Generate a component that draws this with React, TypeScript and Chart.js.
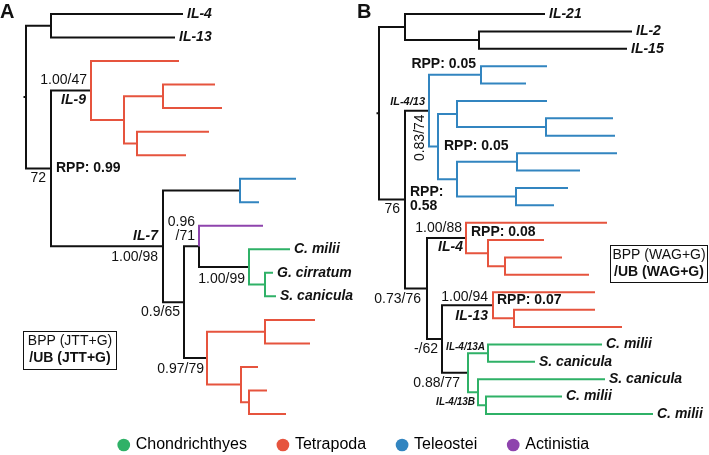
import React, { useEffect, useRef } from "react";
import { Chart, registerables } from "chart.js";

Chart.register(...registerables);

// ---------------- Data ----------------
// Trees in Newick form. "|X" tags a branch (and everything below it) with a clade:
// C = Chondrichthyes, T = Tetrapoda, O = Teleostei, A = Actinistia. Branch lengths after ":".
const TREE_A =
  "((IL-4:132,IL-13:124)a1:25,((|T:88,((|T:52,|T:59)|T:39,(|T:72,|T:49)|T:13)|T:33)il9:40,((|O:56,|O:19)a8:77,((|A:64,(C. milii|C:41,(G. cirratum|C:8,S. canicula|C:11)|C:16)a11:50)a10:15,((|T:50,|T:45)|T:58,(|T:17,(|T:18,|T:37)|T:8)|T:34)a13:23)a9:21)il7:112)a2:25)root:2.5";

const TREE_B =
  "((IL-21:140,(IL-2:153,IL-15:148)b2:74)b1:26,(((|O:66,|O:45)t1|O:52,((|O:90,(|O:67,|O:69)|O:89)|O:19,((|O:100,|O:63)|O:60,(|O:52,|O:38)|O:59)|O:19)t2|O:9)tel:24,((|T:141,(|T:56,(|T:57,|T:84)|T:17)|T:22)il4:39,((|T:102,(|T:81,|T:108)|T:21)il13:51,((C. milii|C:114,S. canicula|C:47)g1|C:20,(S. canicula|C:127,(C. milii|C:76,C. milii|C:167)|C:8)g2|C:10)gr:26)b5:15)b4:22)b3:26)root:2.5";

const CLADE_NAMES = ["Chondrichthyes", "Tetrapoda", "Teleostei", "Actinistia"];
const CLADE_TAGS = ["C", "T", "O", "A"];
const CLADE_COLORS = ["#2fb167", "#e6543e", "#3285c0", "#8e44ad"];

// Node annotations: [node, text, kind, dx, dy, align]
const NOTES_A: [string, string, string, number, number, string][] = [
  ["il9", "1.00/47", "support", -4, -10, "right"],
  ["il9", "IL-9", "gene", -5, 10, "right"],
  ["a2", "RPP: 0.99", "rpp", 5, 0, "left"],
  ["a2", "72", "support", -5, 10, "right"],
  ["il7", "IL-7", "gene", -5, -10, "right"],
  ["il7", "1.00/98", "support", -5, 11, "right"],
  ["a10", "0.96", "support", -4, -24, "right"],
  ["a10", "/71", "support", -4, -10, "right"],
  ["a11", "1.00/99", "support", -4, 12, "right"],
  ["a9", "0.9/65", "support", -4, 10, "right"],
  ["a13", "0.97/79", "support", -3, 11, "right"],
];

const NOTES_B: [string, string, string, number, number, string][] = [
  ["t1", "RPP: 0.05", "rpp", -5, -11, "right"],
  ["tel", "IL-4/13", "geneSmall", -4, -9, "right"],
  ["tel", "0.83/74", "supportRot", -9, 27, "center"],
  ["t2", "RPP: 0.05", "rpp", 6, 0, "left"],
  ["b3", "RPP:", "rpp", 5, -7, "left"],
  ["b3", "0.58", "rpp", 5, 7, "left"],
  ["b3", "76", "support", -5, 10, "right"],
  ["il4", "1.00/88", "support", -4, -10, "right"],
  ["il4", "IL-4", "gene", -3, 9, "right"],
  ["il4", "RPP: 0.08", "rpp", 5, -6, "left"],
  ["b4", "0.73/76", "support", -6, 11, "right"],
  ["il13", "1.00/94", "support", -5, -8, "right"],
  ["il13", "IL-13", "gene", -5, 11, "right"],
  ["il13", "RPP: 0.07", "rpp", 4, -5, "left"],
  ["b5", "-/62", "support", -4, 10, "right"],
  ["g1", "IL-4/13A", "geneTiny", -3, -6, "right"],
  ["gr", "0.88/77", "support", -8, 10, "right"],
  ["g2", "IL-4/13B", "geneTiny", -3, 10, "right"],
];

const PANEL_LETTERS = ["A", "B"];
const BOX_LINES_A = ["BPP (JTT+G)", "/UB (JTT+G)"];
const BOX_LINES_B = ["BPP (WAG+G)", "/UB (WAG+G)"];

// ---------------- Layout / style ----------------
const W = 709;
const H = 455;
const FAMILY = "'Liberation Sans', Arial, Helvetica, sans-serif";
const BLACK = "#111111";
const LEGEND_FONT = 16;
const LEGEND_PAD = 32;
const PAD_BOTTOM = -8;
const AREA_H = H - PAD_BOTTOM - (LEGEND_FONT + LEGEND_PAD + 10);

const PANELS = [
  { tree: TREE_A, notes: NOTES_A, xId: "xA", yId: "yA", origin: 23.5, firstLeafPx: 14, leafStep: 400 / 17,
    letter: { x: 0, y: 12 }, box: { x: 23.5, y: 331.5, w: 93, h: 38, lines: BOX_LINES_A } },
  { tree: TREE_B, notes: NOTES_B, xId: "xB", yId: "yB", origin: 376.5, firstLeafPx: 14, leafStep: 400 / 23,
    letter: { x: 357, y: 12 }, box: { x: 610.5, y: 245.5, w: 97, h: 37, lines: BOX_LINES_B } },
];

const FONTS: Record<string, string> = {
  support: `14px ${FAMILY}`,
  supportRot: `14px ${FAMILY}`,
  rpp: `bold 14px ${FAMILY}`,
  gene: `italic bold 14px ${FAMILY}`,
  geneSmall: `italic bold 11px ${FAMILY}`,
  geneTiny: `italic bold 10px ${FAMILY}`,
  leaf: `italic bold 14px ${FAMILY}`,
};

type TNode = {
  name: string; tag: string; len: number; kids: TNode[];
  x: number; y: number; color: string; parent: TNode | null;
};

function parseNewick(src: string): TNode {
  const s = src.replace(/;$/, "");
  let i = 0;
  const read = (parent: TNode | null): TNode => {
    const n: TNode = { name: "", tag: "", len: 0, kids: [], x: 0, y: 0, color: "", parent };
    if (s[i] === "(") {
      i++;
      n.kids.push(read(n));
      while (s[i] === ",") { i++; n.kids.push(read(n)); }
      i++;
    }
    let label = "";
    while (i < s.length && ":,()".indexOf(s[i]) < 0) label += s[i++];
    if (s[i] === ":") {
      i++;
      let num = "";
      while (i < s.length && ",()".indexOf(s[i]) < 0) num += s[i++];
      n.len = parseFloat(num);
    }
    const parts = label.split("|");
    n.name = parts[0].trim();
    n.tag = (parts[1] || "").trim();
    return n;
  };
  return read(null);
}

function layoutTree(root: TNode): TNode[] {
  let leaf = 0;
  const all: TNode[] = [];
  const walk = (n: TNode, x0: number, inherited: string) => {
    n.x = x0 + n.len;
    n.color = n.tag || inherited;
    all.push(n);
    if (n.kids.length === 0) n.y = leaf++;
    else {
      n.kids.forEach((k) => walk(k, n.x, n.color));
      n.y = (n.kids[0].y + n.kids[n.kids.length - 1].y) / 2;
    }
  };
  walk(root, 0, "");
  return all;
}

const colorFor = (tag: string) => (tag ? CLADE_COLORS[CLADE_TAGS.indexOf(tag)] : BLACK);

function edgeDatasets(nodes: TNode[], xId: string, yId: string) {
  const groups = new Map<string, any[]>();
  const push = (tag: string, pts: any[]) => {
    if (!groups.has(tag)) groups.set(tag, []);
    const g = groups.get(tag)!;
    if (g.length) g.push({ x: null, y: null });
    g.push(...pts);
  };
  for (const n of nodes) {
    if (!n.parent) push("", [{ x: 0, y: n.y }, { x: n.x, y: n.y }]);
    else push(n.color, [
      { x: n.parent.x, y: n.parent.y },
      { x: n.parent.x, y: n.y },
      { x: n.x, y: n.y },
    ]);
  }
  return [...groups.entries()].map(([tag, data]) => ({
    type: "line" as const,
    data,
    xAxisID: xId,
    yAxisID: yId,
    borderColor: colorFor(tag),
    backgroundColor: colorFor(tag),
    borderWidth: 2,
    pointRadius: 0,
    pointHoverRadius: 0,
    fill: false,
    tension: 0,
    spanGaps: false,
    clip: false as any,
    borderCapStyle: "butt" as const,
    borderJoinStyle: "miter" as const,
    order: tag ? 0 : 1,
  }));
}

export default function App() {
  const ref = useRef<HTMLCanvasElement>(null);

  useEffect(() => {
    const built = PANELS.map((p) => {
      const nodes = layoutTree(parseNewick(p.tree));
      return { ...p, nodes };
    });

    const datasets = built.flatMap((p) => edgeDatasets(p.nodes, p.xId, p.yId));

    const scales: any = {};
    for (const p of built) {
      scales[p.xId] = { type: "linear", axis: "x", display: false, min: -p.origin, max: W - p.origin };
      const yMin = -p.firstLeafPx / p.leafStep;
      scales[p.yId] = { type: "linear", axis: "y", display: false, reverse: true, min: yMin, max: yMin + AREA_H / p.leafStep };
    }

    const textPlugin = {
      id: "treeText",
      afterDatasetsDraw(chart: any) {
        const ctx: CanvasRenderingContext2D = chart.ctx;
        ctx.save();
        ctx.fillStyle = BLACK;
        ctx.textBaseline = "middle";
        for (const p of built) {
          const xs = chart.scales[p.xId];
          const ys = chart.scales[p.yId];
          const byName: Record<string, TNode> = {};
          for (const n of p.nodes) {
            if (n.name) byName[n.name] = n;
            if (n.kids.length === 0 && n.name) {
              ctx.font = FONTS.leaf;
              ctx.textAlign = "left";
              ctx.fillText(n.name, xs.getPixelForValue(n.x) + 4, ys.getPixelForValue(n.y));
            }
          }
          for (const [node, text, kind, dx, dy, align] of p.notes) {
            const n = byName[node];
            if (!n) continue;
            const x = xs.getPixelForValue(n.x) + dx;
            const y = ys.getPixelForValue(n.y) + dy;
            ctx.font = FONTS[kind];
            if (kind === "supportRot") {
              ctx.save();
              ctx.translate(x, y);
              ctx.rotate(-Math.PI / 2);
              ctx.textAlign = "center";
              ctx.fillText(text, 0, 0);
              ctx.restore();
            } else {
              ctx.textAlign = align as CanvasTextAlign;
              ctx.fillText(text, x, y);
            }
          }
        }
        // panel letters and method boxes
        built.forEach((p, i) => {
          ctx.font = `bold 20px ${FAMILY}`;
          ctx.textAlign = "left";
          ctx.fillText(PANEL_LETTERS[i], p.letter.x, p.letter.y);
          const b = p.box;
          ctx.strokeStyle = BLACK;
          ctx.lineWidth = 1;
          ctx.strokeRect(b.x, b.y, b.w, b.h);
          ctx.textAlign = "center";
          ctx.font = `14px ${FAMILY}`;
          ctx.fillText(b.lines[0], b.x + b.w / 2, b.y + 9.5);
          ctx.font = `bold 14px ${FAMILY}`;
          ctx.fillText(b.lines[1], b.x + b.w / 2, b.y + 27);
        });
        ctx.restore();
      },
    };

    const chart = new Chart(ref.current!, {
      type: "line",
      data: { datasets: datasets as any },
      options: {
        responsive: false,
        animation: false,
        events: [],
        layout: { padding: { left: 0, right: 0, top: 0, bottom: PAD_BOTTOM } },
        scales,
        plugins: {
          tooltip: { enabled: false },
          title: { display: false },
          legend: {
            display: true,
            position: "bottom",
            align: "center",
            onClick: () => {},
            labels: {
              usePointStyle: true,
              pointStyle: "circle",
              boxWidth: 8,
              boxHeight: 9,
              padding: LEGEND_PAD,
              color: BLACK,
              font: { size: LEGEND_FONT, family: FAMILY },
              generateLabels: () =>
                CLADE_NAMES.map((t, i) => ({
                  text: t,
                  fillStyle: CLADE_COLORS[i],
                  strokeStyle: CLADE_COLORS[i],
                  lineWidth: 0,
                  pointStyle: "circle",
                  hidden: false,
                  datasetIndex: i,
                })),
            },
          },
        },
      } as any,
      plugins: [textPlugin],
    });
    return () => chart.destroy();
  }, []);

  return (
    <canvas
      ref={ref}
      width={W}
      height={H}
      style={{ display: "block", position: "absolute", left: 0, top: 0, background: "#fff" }}
    />
  );
}
